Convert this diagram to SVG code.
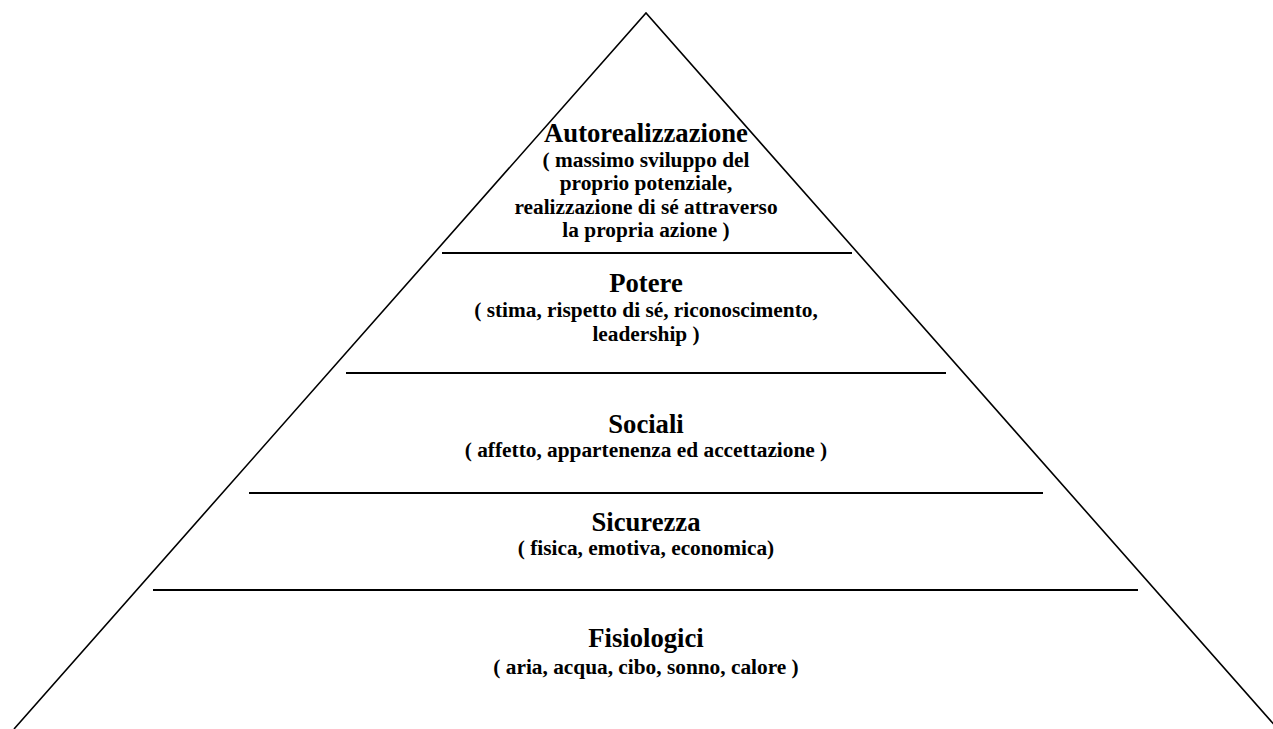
<svg xmlns="http://www.w3.org/2000/svg" width="1273" height="729" viewBox="0 0 1273 729">
<style>
.edge{stroke:#000;stroke-width:1.6;fill:none}
.sep{stroke:#000;stroke-width:2;fill:none}
text{font-family:"Liberation Serif","Times New Roman",serif;font-weight:bold;fill:#000;text-anchor:middle}
.t{font-size:26.67px}
.s{font-size:21.33px}
</style>
<rect width="1273" height="729" fill="#fff"/>
<g id="connectors">
<polyline class="edge" points="14,729 646,13 1278,729"/>
<line class="sep" x1="442" y1="253" x2="852" y2="253"/>
<line class="sep" x1="346" y1="373" x2="946" y2="373"/>
<line class="sep" x1="249" y1="493" x2="1043" y2="493"/>
<line class="sep" x1="153" y1="590" x2="1138" y2="590"/>
</g>
<g id="autorealizzazione">
<text class="t" x="646" y="142">Autorealizzazione</text>
<text class="s" x="646" y="166.5">( massimo sviluppo del</text>
<text class="s" x="646" y="190">proprio potenziale,</text>
<text class="s" x="646" y="213.5">realizzazione di sé attraverso</text>
<text class="s" x="646" y="237">la propria azione )</text>
</g>
<g id="potere">
<text class="t" x="646" y="292">Potere</text>
<text class="s" x="646" y="317">( stima, rispetto di sé, riconoscimento,</text>
<text class="s" x="646" y="341">leadership )</text>
</g>
<g id="sociali">
<text class="t" x="646" y="433">Sociali</text>
<text class="s" x="646" y="457">( affetto, appartenenza ed accettazione )</text>
</g>
<g id="sicurezza">
<text class="t" x="646" y="531">Sicurezza</text>
<text class="s" x="646" y="555">( fisica, emotiva, economica)</text>
</g>
<g id="fisiologici">
<text class="t" x="646" y="647">Fisiologici</text>
<text class="s" x="646" y="674">( aria, acqua, cibo, sonno, calore )</text>
</g>
</svg>
